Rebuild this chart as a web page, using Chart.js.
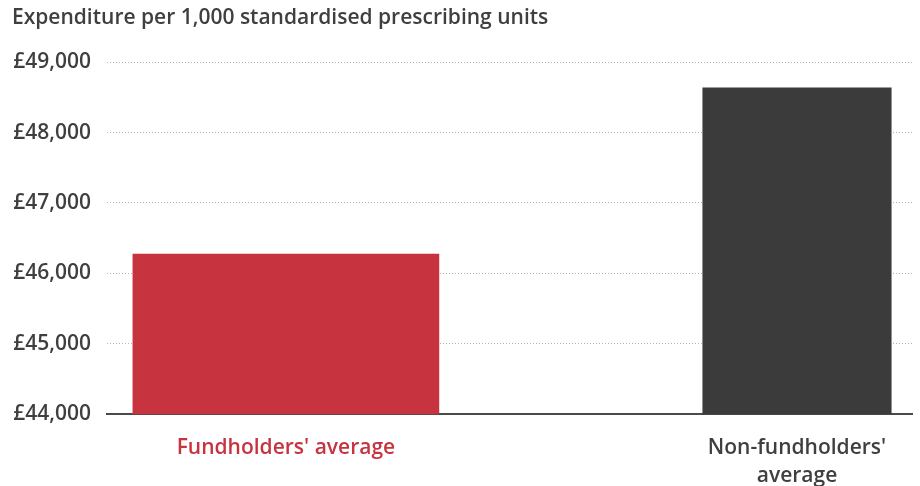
<!DOCTYPE html>
<html>
<head>
<meta charset="utf-8">
<script src="https://cdn.jsdelivr.net/npm/chart.js@4.4.1/dist/chart.umd.min.js"></script>
<style>
  html, body { margin: 0; padding: 0; background: #fff; }
  #wrap { width: 920px; height: 486px; position: relative; }
</style>
</head>
<body>
<div id="wrap"><canvas id="chart"></canvas></div>
<script>
/* ---------- Data ---------- */
const categories = ["Fundholders' average", ["Non-fundholders'", "average"]];
const expenditure = [46280, 48640];
const yTicks = [44000, 45000, 46000, 47000, 48000, 49000];

const RED = "#c7343f";
const DARK = "#3b3b3b";
const TEXT = "#3f3f3f";
const FONT = "'Open Sans', 'DejaVu Sans', sans-serif";

/* ---------- Chart ---------- */
const ctx = document.getElementById("chart").getContext("2d");
new Chart(ctx, {
  type: "bar",
  data: {
    datasets: [
      {
        label: "Fundholders",
        data: [{ x: 0, y: expenditure[0] }],
        backgroundColor: RED,
        barPercentage: 0.6,
        categoryPercentage: 1,
        grouped: false,
      },
      {
        label: "Non-fundholders",
        data: [{ x: 1, y: expenditure[1] }],
        backgroundColor: DARK,
        barPercentage: 0.37,
        categoryPercentage: 1,
        grouped: false,
      },
    ],
  },
  options: {
    responsive: true,
    maintainAspectRatio: false,
    animation: false,
    layout: { padding: { left: 12, right: 8, top: 4, bottom: -16 } },
    plugins: {
      legend: { display: false },
      tooltip: { enabled: false },
      title: {
        display: true,
        text: "Expenditure per 1,000 standardised prescribing units",
        align: "start",
        color: TEXT,
        font: { family: FONT, size: 21, weight: "600" },
        padding: { top: 1, bottom: 32 },
      },
    },
    scales: {
      x: {
        type: "linear",
        offset: false,
        min: -0.35,
        max: 1.225,
        afterBuildTicks: (axis) => {
          axis.ticks = categories.map((_, i) => ({ value: i }));
        },
        ticks: {
          autoSkip: false,
          maxRotation: 0,
          padding: 12,
          callback: (v, i) => categories[i],
          color: (c) => (c.index === 0 ? RED : TEXT),
          font: { family: FONT, size: 21, weight: "600", lineHeight: 1.33 },
        },
        grid: { display: false, offset: false },
        border: { display: true, color: "#4a4a4a", width: 2 },
      },
      y: {
        min: 44000,
        max: 49000,
        afterBuildTicks: (axis) => {
          axis.ticks = yTicks.map((v) => ({ value: v }));
        },
        afterFit: (axis) => {
          axis.width = 95;
        },
        ticks: {
          padding: 16,
          color: TEXT,
          font: { family: FONT, size: 21, weight: "600" },
          callback: (v) => "\u00A3" + Number(v).toLocaleString("en-GB"),
        },
        grid: {
          drawTicks: false,
          lineWidth: 1,
          color: (c) => (c.tick && c.tick.value === 44000 ? "rgba(0,0,0,0)" : "#b5b5b5"),
        },
        border: { display: false, dash: [1, 2] },
      },
    },
  },
});
</script>
</body>
</html>
